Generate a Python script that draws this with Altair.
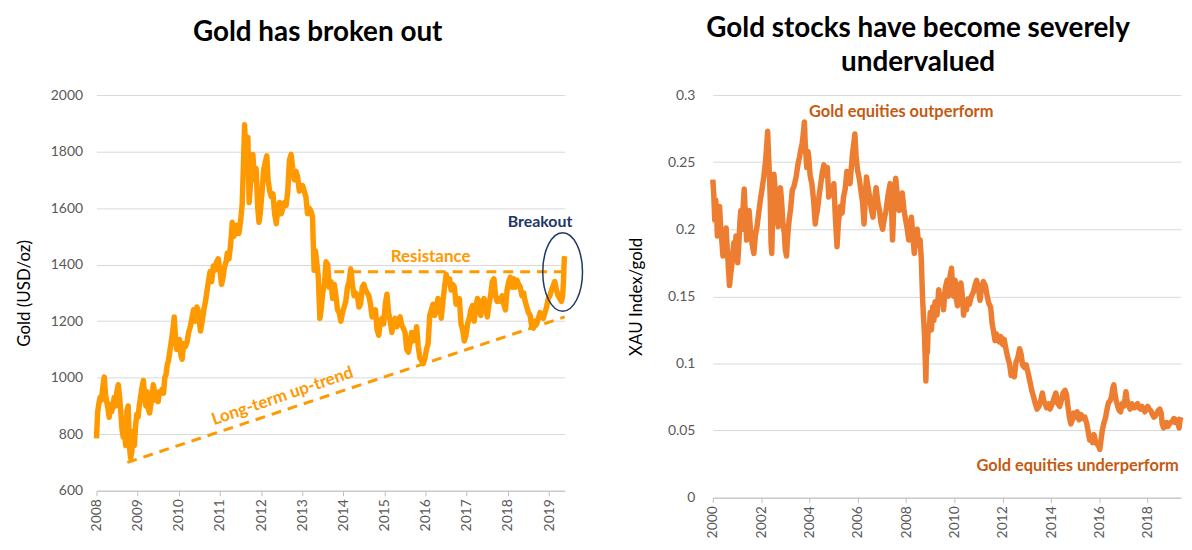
import altair as alt
import pandas as pd

# ---------------- Left panel: gold price (USD/oz), decimal years ----------------
gold_year = [
    2008.00, 2008.03, 2008.06, 2008.09, 2008.12, 2008.16, 2008.19, 2008.22, 2008.25, 2008.28, 2008.31,
    2008.34, 2008.37, 2008.40, 2008.43, 2008.46, 2008.49, 2008.53, 2008.56, 2008.59, 2008.62, 2008.65,
    2008.68, 2008.71, 2008.74, 2008.77, 2008.80, 2008.83, 2008.86, 2008.89, 2008.92, 2008.95, 2008.98,
    2009.01, 2009.04, 2009.07, 2009.10, 2009.14, 2009.17, 2009.20, 2009.23, 2009.26, 2009.29, 2009.32,
    2009.35, 2009.38, 2009.41, 2009.44, 2009.47, 2009.50, 2009.53, 2009.56, 2009.60, 2009.63, 2009.66,
    2009.69, 2009.72, 2009.75, 2009.78, 2009.81, 2009.85, 2009.89, 2009.92, 2009.95, 2009.98,
    2010.02, 2010.05, 2010.08, 2010.12, 2010.16, 2010.20, 2010.24, 2010.28, 2010.32, 2010.36, 2010.40,
    2010.44, 2010.47, 2010.50, 2010.53, 2010.57, 2010.61, 2010.65, 2010.68, 2010.72, 2010.76, 2010.80,
    2010.84, 2010.88, 2010.92, 2010.96,
    2011.00, 2011.04, 2011.07, 2011.11, 2011.15, 2011.18, 2011.22, 2011.26, 2011.30, 2011.34, 2011.38,
    2011.42, 2011.46, 2011.50, 2011.54, 2011.57, 2011.60, 2011.63, 2011.66, 2011.68, 2011.71, 2011.74,
    2011.77, 2011.80, 2011.84, 2011.88, 2011.92, 2011.95, 2011.98,
    2012.02, 2012.06, 2012.10, 2012.14, 2012.17, 2012.21, 2012.25, 2012.29, 2012.33, 2012.37, 2012.41,
    2012.45, 2012.49, 2012.53, 2012.57, 2012.61, 2012.65, 2012.69, 2012.73, 2012.77, 2012.81, 2012.85,
    2012.89, 2012.93, 2012.97,
    2013.01, 2013.05, 2013.09, 2013.13, 2013.17, 2013.21, 2013.25, 2013.29, 2013.32, 2013.36, 2013.39,
    2013.43, 2013.46, 2013.50, 2013.54, 2013.58, 2013.62, 2013.66, 2013.70, 2013.74, 2013.78, 2013.82,
    2013.86, 2013.90, 2013.94, 2013.98,
    2014.02, 2014.06, 2014.10, 2014.14, 2014.18, 2014.22, 2014.26, 2014.30, 2014.34, 2014.38, 2014.42,
    2014.46, 2014.50, 2014.54, 2014.58, 2014.62, 2014.66, 2014.70, 2014.74, 2014.78, 2014.82, 2014.86,
    2014.90, 2014.94, 2014.98,
    2015.02, 2015.06, 2015.10, 2015.14, 2015.18, 2015.22, 2015.26, 2015.30, 2015.34, 2015.38, 2015.42,
    2015.46, 2015.50, 2015.54, 2015.58, 2015.62, 2015.66, 2015.70, 2015.74, 2015.78, 2015.82, 2015.86,
    2015.90, 2015.94, 2015.98,
    2016.02, 2016.06, 2016.10, 2016.14, 2016.18, 2016.22, 2016.26, 2016.30, 2016.34, 2016.38, 2016.42,
    2016.46, 2016.50, 2016.54, 2016.58, 2016.62, 2016.66, 2016.70, 2016.74, 2016.78, 2016.82, 2016.86,
    2016.90, 2016.94, 2016.98,
    2017.02, 2017.06, 2017.10, 2017.14, 2017.18, 2017.22, 2017.26, 2017.30, 2017.34, 2017.38, 2017.42,
    2017.46, 2017.50, 2017.54, 2017.58, 2017.62, 2017.66, 2017.70, 2017.74, 2017.78, 2017.82, 2017.86,
    2017.90, 2017.94, 2017.98,
    2018.02, 2018.06, 2018.10, 2018.14, 2018.18, 2018.22, 2018.26, 2018.30, 2018.34, 2018.38, 2018.42,
    2018.46, 2018.50, 2018.54, 2018.58, 2018.62, 2018.66, 2018.70, 2018.74, 2018.78, 2018.82, 2018.86,
    2018.90, 2018.94, 2018.98,
    2019.02, 2019.06, 2019.10, 2019.14, 2019.18, 2019.22, 2019.26, 2019.30, 2019.33, 2019.35, 2019.37,
    2019.38,
]
gold_usd = [
    785, 880, 910, 930, 920, 975, 1002, 940, 915, 890, 860,
    905, 880, 900, 930, 900, 945, 975, 935, 880, 820, 790,
    810, 760, 880, 900, 760, 715, 740, 810, 760, 830, 870,
    860, 900, 930, 960, 990, 940, 900, 950, 890, 875, 905,
    930, 975, 950, 920, 935, 915, 950, 945, 960, 945, 1000,
    1010, 1045, 1060, 1090, 1120, 1160, 1215, 1140, 1100, 1120,
    1135, 1080, 1065, 1120, 1110, 1125, 1160, 1180, 1210, 1240, 1200,
    1250, 1240, 1200, 1165, 1200, 1240, 1270, 1300, 1340, 1375, 1340,
    1395, 1380, 1410, 1420,
    1380, 1330, 1350, 1390, 1410, 1440, 1420, 1470, 1550, 1500, 1515,
    1540, 1510, 1550, 1610, 1740, 1895, 1790, 1740, 1850, 1620, 1680,
    1730, 1790, 1700, 1740, 1600, 1550, 1580,
    1650, 1730, 1760, 1785, 1700, 1660, 1640, 1650, 1580, 1545, 1600,
    1620, 1580, 1600, 1620, 1610, 1660, 1770, 1790, 1740, 1700, 1730,
    1710, 1660, 1670,
    1680, 1660, 1640, 1580, 1600, 1590, 1570, 1380, 1450, 1400, 1360,
    1210, 1240, 1300, 1330, 1410, 1400, 1320, 1340, 1280, 1330, 1290,
    1240, 1230, 1200, 1230,
    1250, 1270, 1320, 1340, 1385, 1330, 1290, 1300, 1290, 1250, 1260,
    1320, 1330, 1310, 1300, 1290, 1260, 1215, 1225, 1240, 1170, 1150,
    1200, 1210, 1190,
    1260, 1295, 1230, 1200, 1160, 1200, 1210, 1180, 1200, 1215, 1185,
    1175, 1160, 1100, 1090, 1120, 1160, 1130, 1140, 1180, 1110, 1070,
    1060, 1050, 1065,
    1100, 1120, 1220, 1240, 1260, 1220, 1240, 1280, 1270, 1210, 1270,
    1320, 1365, 1340, 1350, 1310, 1330, 1320, 1260, 1270, 1280, 1190,
    1170, 1130, 1150,
    1190, 1210, 1240, 1255, 1200, 1250, 1280, 1270, 1220, 1260, 1280,
    1250, 1215, 1260, 1290, 1340, 1350, 1290, 1270, 1280, 1270, 1290,
    1260, 1240, 1310,
    1340, 1355, 1320, 1350, 1320, 1345, 1330, 1320, 1290, 1300, 1270,
    1250, 1230, 1220, 1180, 1175, 1200, 1190, 1210, 1230, 1220, 1210,
    1230, 1250, 1280,
    1290, 1310, 1325, 1340, 1310, 1290, 1280, 1270, 1290, 1340, 1420,
    1430,
]

# trend / resistance guide lines (year, value) and annotations
trend_year = [2008.75, 2019.38]
trend_usd = [700, 1215]
resist_year = [2013.78, 2019.38]
resist_usd = [1375, 1375]
breakout_center = (2019.33, 1374)

# ---------------- Right panel: XAU index / gold ratio ----------------
xau_year = [
    2000.00, 2000.04, 2000.08, 2000.12, 2000.16, 2000.19, 2000.23, 2000.28, 2000.33, 2000.38, 2000.42,
    2000.48, 2000.55, 2000.60, 2000.65, 2000.69, 2000.73, 2000.78, 2000.82, 2000.87, 2000.92, 2000.96,
    2001.03, 2001.08, 2001.12, 2001.16, 2001.22, 2001.26, 2001.30, 2001.35, 2001.40, 2001.45, 2001.50,
    2001.56, 2001.62, 2001.70, 2001.76, 2001.83, 2001.90, 2001.97,
    2002.04, 2002.11, 2002.18, 2002.23, 2002.27, 2002.31, 2002.35, 2002.38, 2002.41, 2002.44, 2002.48,
    2002.53, 2002.58, 2002.63, 2002.67, 2002.71, 2002.76, 2002.80, 2002.85, 2002.90, 2002.96,
    2003.00, 2003.05, 2003.10, 2003.16, 2003.22, 2003.29, 2003.36, 2003.45, 2003.52, 2003.59, 2003.65,
    2003.70, 2003.75, 2003.79, 2003.83, 2003.89, 2003.94, 2003.97,
    2004.03, 2004.10, 2004.17, 2004.24, 2004.28, 2004.33, 2004.40, 2004.47, 2004.53, 2004.60, 2004.67,
    2004.74, 2004.80, 2004.87, 2004.94,
    2005.01, 2005.07, 2005.14, 2005.20, 2005.28, 2005.35, 2005.41, 2005.48, 2005.55, 2005.62, 2005.68,
    2005.73, 2005.78, 2005.83, 2005.88, 2005.93, 2005.99,
    2006.06, 2006.13, 2006.20, 2006.26, 2006.31, 2006.36, 2006.42, 2006.49, 2006.56, 2006.63, 2006.70,
    2006.76, 2006.83, 2006.90, 2006.96,
    2007.03, 2007.10, 2007.17, 2007.25, 2007.34, 2007.40, 2007.44, 2007.50, 2007.57, 2007.64, 2007.71,
    2007.78, 2007.84, 2007.91, 2007.98,
    2008.05, 2008.11, 2008.17, 2008.22, 2008.28, 2008.34, 2008.40, 2008.46, 2008.52, 2008.58, 2008.63,
    2008.68, 2008.72, 2008.76, 2008.79, 2008.82, 2008.85, 2008.88, 2008.92, 2008.96,
    2009.00, 2009.05, 2009.10, 2009.15, 2009.20, 2009.28, 2009.35, 2009.42, 2009.50, 2009.55, 2009.62,
    2009.70, 2009.75, 2009.82, 2009.88, 2009.92, 2009.97,
    2010.03, 2010.08, 2010.13, 2010.20, 2010.27, 2010.33, 2010.38, 2010.43, 2010.50, 2010.56, 2010.62,
    2010.70, 2010.78, 2010.85, 2010.92,
    2011.00, 2011.06, 2011.12, 2011.20, 2011.28, 2011.35, 2011.42, 2011.50, 2011.56, 2011.62, 2011.68,
    2011.74, 2011.80, 2011.86, 2011.92,
    2012.00, 2012.06, 2012.12, 2012.20, 2012.28, 2012.35, 2012.42, 2012.48, 2012.55, 2012.62, 2012.70,
    2012.76, 2012.82, 2012.90, 2012.97,
    2013.05, 2013.12, 2013.20, 2013.28, 2013.35, 2013.42, 2013.50, 2013.58, 2013.64, 2013.70, 2013.76,
    2013.82, 2013.90, 2013.96,
    2014.05, 2014.12, 2014.20, 2014.28, 2014.36, 2014.42, 2014.50, 2014.58, 2014.64, 2014.70, 2014.76,
    2014.82, 2014.88, 2014.94,
    2015.00, 2015.08, 2015.16, 2015.24, 2015.32, 2015.40, 2015.48, 2015.55, 2015.60, 2015.66, 2015.72,
    2015.78, 2015.84, 2015.90, 2015.96,
    2016.02, 2016.06, 2016.12, 2016.18, 2016.26, 2016.32, 2016.38, 2016.44, 2016.50, 2016.56, 2016.60,
    2016.65, 2016.70, 2016.76, 2016.82, 2016.88, 2016.94,
    2017.00, 2017.06, 2017.10, 2017.16, 2017.22, 2017.28, 2017.34, 2017.40, 2017.46, 2017.52, 2017.58,
    2017.64, 2017.70, 2017.76, 2017.82, 2017.88, 2017.94,
    2018.00, 2018.06, 2018.12, 2018.20, 2018.26, 2018.32, 2018.38, 2018.44, 2018.50, 2018.56, 2018.60,
    2018.66, 2018.72, 2018.78, 2018.84, 2018.90, 2018.96,
    2019.02, 2019.08, 2019.14, 2019.20, 2019.26, 2019.30, 2019.34, 2019.38,
]
xau_ratio = [
    0.237, 0.226, 0.207, 0.222, 0.210, 0.195, 0.205, 0.217, 0.200, 0.190, 0.180,
    0.195, 0.201, 0.185, 0.170, 0.158, 0.165, 0.172, 0.180, 0.190, 0.182, 0.195,
    0.175, 0.190, 0.205, 0.214, 0.200, 0.218, 0.230, 0.210, 0.192, 0.205, 0.214,
    0.200, 0.190, 0.182, 0.195, 0.202, 0.212, 0.222,
    0.230, 0.239, 0.250, 0.262, 0.273, 0.255, 0.238, 0.220, 0.190, 0.182, 0.215,
    0.241, 0.230, 0.205, 0.220, 0.202, 0.215, 0.231, 0.220, 0.205, 0.197,
    0.185, 0.180, 0.195, 0.207, 0.215, 0.229, 0.232, 0.239, 0.248, 0.254, 0.260,
    0.264, 0.272, 0.280, 0.262, 0.246, 0.258, 0.254,
    0.240, 0.234, 0.222, 0.204, 0.210, 0.214, 0.225, 0.234, 0.242, 0.248, 0.240,
    0.246, 0.224, 0.230, 0.226,
    0.234, 0.210, 0.187, 0.205, 0.217, 0.212, 0.224, 0.230, 0.243, 0.238, 0.234,
    0.245, 0.256, 0.263, 0.271, 0.255, 0.244,
    0.238, 0.229, 0.220, 0.204, 0.222, 0.239, 0.232, 0.224, 0.215, 0.209, 0.222,
    0.231, 0.220, 0.214, 0.205,
    0.200, 0.208, 0.214, 0.225, 0.234, 0.215, 0.192, 0.220, 0.238, 0.225, 0.214,
    0.222, 0.227, 0.215, 0.207,
    0.200, 0.192, 0.203, 0.209, 0.195, 0.182, 0.195, 0.200, 0.188, 0.192, 0.178,
    0.150, 0.135, 0.122, 0.105, 0.087, 0.118, 0.108, 0.128, 0.125,
    0.138, 0.125, 0.142, 0.132, 0.146, 0.136, 0.155, 0.145, 0.151, 0.140, 0.156,
    0.162, 0.150, 0.165, 0.171, 0.158, 0.150,
    0.162, 0.148, 0.143, 0.152, 0.160, 0.150, 0.136, 0.146, 0.140, 0.148, 0.144,
    0.150, 0.153, 0.158, 0.162,
    0.155, 0.147, 0.156, 0.161, 0.158, 0.151, 0.145, 0.142, 0.130, 0.124, 0.117,
    0.122, 0.120, 0.116, 0.120,
    0.114, 0.118, 0.112, 0.105, 0.100, 0.091, 0.096, 0.090, 0.101, 0.104, 0.111,
    0.107, 0.099, 0.097, 0.099,
    0.093, 0.087, 0.080, 0.075, 0.070, 0.066, 0.068, 0.073, 0.078, 0.072, 0.070,
    0.067, 0.070, 0.066,
    0.070, 0.074, 0.078, 0.070, 0.068, 0.072, 0.078, 0.080, 0.077, 0.068, 0.060,
    0.055, 0.058, 0.063,
    0.060, 0.064, 0.058, 0.062, 0.059, 0.060, 0.055, 0.048, 0.043, 0.046, 0.041,
    0.047, 0.042, 0.040, 0.039,
    0.036, 0.042, 0.050, 0.055, 0.060, 0.066, 0.071, 0.072, 0.075, 0.082, 0.084,
    0.077, 0.072, 0.068, 0.065, 0.064, 0.070,
    0.068, 0.074, 0.079, 0.071, 0.068, 0.066, 0.070, 0.068, 0.067, 0.069, 0.070,
    0.067, 0.066, 0.068, 0.066, 0.064, 0.066,
    0.068, 0.066, 0.065, 0.062, 0.060, 0.061, 0.063, 0.065, 0.066, 0.063, 0.055,
    0.052, 0.054, 0.056, 0.053, 0.055, 0.056,
    0.057, 0.059, 0.056, 0.058, 0.055, 0.052, 0.058, 0.060,
]

left_years = list(range(2008, 2020))
left_ticks = [600, 800, 1000, 1200, 1400, 1600, 1800, 2000]
right_years = list(range(2000, 2020, 2))
right_ticks = [0, 0.05, 0.1, 0.15, 0.2, 0.25, 0.3]

assert len(gold_year) == len(gold_usd)
assert len(xau_year) == len(xau_ratio)

FONT = "Lato"
GOLD = "#FF9900"
XAU = "#ED7D31"
XAU_TXT = "#C55A11"
NAVY = "#203864"
GRID = "#D9D9D9"
LBL = "#595959"

# ---------- left chart ----------
gold_df = pd.DataFrame({"t": gold_year, "v": gold_usd})
trend_df = pd.DataFrame({"t": trend_year, "v": trend_usd})
resist_df = pd.DataFrame({"t": resist_year, "v": resist_usd})

lx = alt.Scale(domain=[2008, 2019.38], nice=False, zero=False)
ly = alt.Scale(domain=[600, 2000], nice=False, zero=False)

x_axis_l = alt.Axis(values=left_years, format="d", labelAngle=270, grid=False,
                    domainColor="#BFBFBF", tickColor="#BFBFBF", tickSize=5,
                    labelColor=LBL, labelFont=FONT, labelFontSize=14, labelPadding=3,
                    title=None)
y_axis_l = alt.Axis(values=left_ticks, format="d", grid=True, gridColor=GRID, domain=False,
                    ticks=False, labelColor=LBL, labelFont=FONT, labelFontSize=14,
                    labelPadding=14, title="Gold (USD/oz)", titlePadding=17)

LX = alt.X("t:Q", scale=lx, axis=x_axis_l)
LY = alt.Y("v:Q", scale=ly, axis=y_axis_l)

gold_line = alt.Chart(gold_df).mark_line(color=GOLD, strokeWidth=5.5, strokeJoin="round").encode(
    x=LX, y=LY)
trend_line = alt.Chart(trend_df).mark_line(color=GOLD, strokeWidth=3, strokeDash=[10, 7]).encode(
    x=LX, y=LY)
resist_line = alt.Chart(resist_df).mark_line(color=GOLD, strokeWidth=3, strokeDash=[10, 7]).encode(
    x=LX, y=LY)

lab_df = pd.DataFrame({"t": [2016.12], "v": [1427], "txt": ["Resistance"]})
resist_txt = alt.Chart(lab_df).mark_text(color=GOLD, font=FONT, fontSize=17, fontWeight="bold").encode(
    x=LX, y=LY, text="txt:N")

brk_df = pd.DataFrame({"t": [2018.78], "v": [1552], "txt": ["Breakout"]})
brk_txt = alt.Chart(brk_df).mark_text(color=NAVY, font=FONT, fontSize=16, fontWeight="bold").encode(
    x=LX, y=LY, text="txt:N")

trend_lab_df = pd.DataFrame({"t": [2012.52], "v": [934], "txt": ["Long-term up-trend"]})
trend_txt = alt.Chart(trend_lab_df).mark_text(color=GOLD, font=FONT, fontSize=17, fontWeight="bold",
                                              angle=341).encode(x=LX, y=LY, text="txt:N")

k = 0.5523
a = 0.506
ellipse_path = (
    f"M 0 -1 C {k*a:.4f} -1 {a} -{k} {a} 0 "
    f"C {a} {k} {k*a:.4f} 1 0 1 "
    f"C -{k*a:.4f} 1 -{a} {k} -{a} 0 "
    f"C -{a} -{k} -{k*a:.4f} -1 0 -1 Z"
)
ell_df = pd.DataFrame({"t": [breakout_center[0]], "v": [breakout_center[1]]})
ellipse = alt.Chart(ell_df).mark_point(shape=ellipse_path, size=79 * 79, filled=False,
                                       color=NAVY, strokeWidth=1.5, opacity=1).encode(x=LX, y=LY)

left = alt.layer(gold_line, trend_line, resist_line, resist_txt, brk_txt, trend_txt, ellipse).properties(
    width=471, height=398,
    title=alt.TitleParams("Gold has broken out", font=FONT, fontSize=28, fontWeight="bold",
                          color="#000000", anchor="middle", frame="group", offset=41, dx=-13),
)

# ---------- right chart ----------
xau_df = pd.DataFrame({"t": xau_year, "v": xau_ratio})
rx = alt.Scale(domain=[2000, 2019.38], nice=False, zero=False)
ry = alt.Scale(domain=[0, 0.3], nice=False, zero=True)

x_axis_r = alt.Axis(values=right_years, format="d", labelAngle=270, grid=False,
                    domainColor="#BFBFBF", tickColor="#BFBFBF", tickSize=5,
                    labelColor=LBL, labelFont=FONT, labelFontSize=14, labelPadding=3,
                    title=None)
y_axis_r = alt.Axis(values=right_ticks, format="~g", grid=True, gridColor=GRID, domain=False,
                    ticks=False, labelColor=LBL, labelFont=FONT, labelFontSize=14,
                    labelPadding=18, title="XAU Index/gold", titlePadding=22)

RX = alt.X("t:Q", scale=rx, axis=x_axis_r)
RY = alt.Y("v:Q", scale=ry, axis=y_axis_r)

xau_line = alt.Chart(xau_df).mark_line(color=XAU, strokeWidth=5.5, strokeJoin="round").encode(
    x=RX, y=RY)
r_lab_df = pd.DataFrame({"t": [2007.8, 2015.1], "v": [0.287, 0.0233],
                         "txt": ["Gold equities outperform", "Gold equities underperform"]})
r_txt = alt.Chart(r_lab_df).mark_text(color=XAU_TXT, font=FONT, fontSize=16.5, fontWeight="bold").encode(
    x=RX, y=RY, text="txt:N")

right = alt.layer(xau_line, r_txt).properties(
    width=471, height=405,
    title=alt.TitleParams(["Gold stocks have become severely", "undervalued"], font=FONT, fontSize=28,
                          fontWeight="bold", color="#000000", anchor="middle", frame="group",
                          offset=11, dx=-29, lineHeight=34),
)

chart = alt.hconcat(left, right, spacing=149, bounds="flush").properties(
    padding={"left": 7, "top": 6, "right": 0, "bottom": 0},
    background="white",
).configure_view(stroke=None).configure_axis(
    titleFont=FONT, titleFontSize=17, titleFontWeight="normal", titleColor="#000000"
)

chart.save("out.html", embed_options={"renderer": "svg", "actions": False})
